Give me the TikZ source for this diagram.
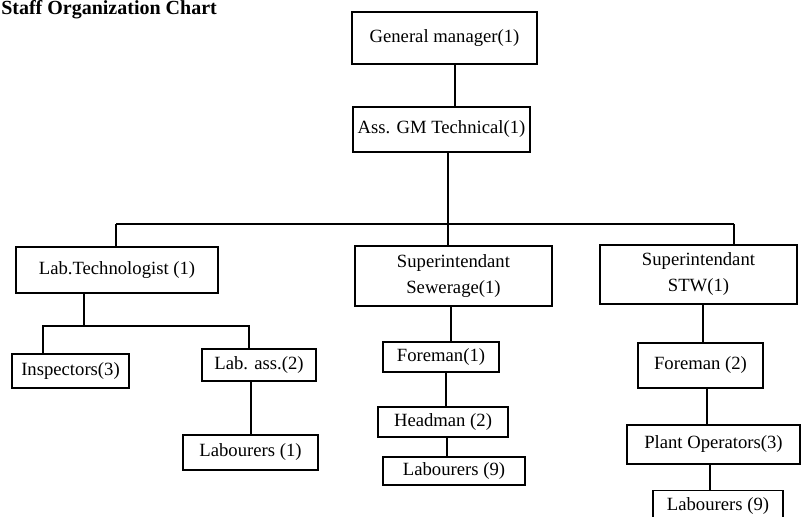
\documentclass[tikz,border=0pt]{standalone}
\usepackage{fontspec}
\setmainfont{Liberation Serif}
\begin{document}
\begin{tikzpicture}[x=0.75pt,y=-0.75pt,
  box/.style={draw=black,line width=1.1pt,inner sep=0pt,align=center,
    font=\fontsize{14}{19.5}\selectfont},
  wh/.style 2 args={minimum width=#1*0.75pt,minimum height=#2*0.75pt},
  conn/.style={draw=black,line width=1.2pt},
  thick conn/.style={draw=black,line width=1.8pt}]
\useasboundingbox (0,0) rectangle (801,517);
\fill[white] (0,0) rectangle (801,517);
\node[anchor=base west,inner sep=0pt,font=\bfseries\fontsize{15}{18}\selectfont] (title) at (1,15) {Staff Organization Chart};

\node[box,wh={185}{52}] (gm) at (444.5,38) {General manager(1)};
\node[box,wh={177}{45}] (ass) at (441.5,129.5) {Ass. GM Technical(1)};

\node[box,wh={202}{46}] (lab) at (117,270) {Lab.Technologist (1)};
\node[box,wh={197}{60}] (sew) at (453.5,276) {Superintendant\\Sewerage(1)};
\node[box,wh={197}{59}] (stw) at (698.5,274.5) {Superintendant\\STW(1)};

\node[box,wh={117}{34}] (insp) at (70.5,371) {Inspectors(3)};
\node[box,wh={114}{32}] (labass) at (259,365) {Lab. ass.(2)};
\node[box,wh={135}{35}] (lab1) at (250.5,452.5) {Labourers (1)};

\node[box,wh={116}{30}] (fm1) at (441,357) {Foreman(1)};
\node[box,wh={130}{30}] (head) at (443,422) {Headman (2)};
\node[box,wh={142}{28}] (lab9a) at (454,471) {Labourers (9)};

\node[box,wh={125}{45}] (fm2) at (700.5,365.5) {Foreman (2)};
\node[box,wh={173}{39}] (plant) at (713.5,444.5) {Plant Operators(3)};
\node[box,wh={130}{30},anchor=north] (lab9b) at (718,490) {Labourers (9)};

% connectors
\coordinate (hl) at (116,224);
\coordinate (hr) at (734,224);
\draw[conn] (gm.south -| 455,0) -- (ass.north -| 455,0);
\draw[thick conn] (ass.south -| 448,0) -- (sew.north -| 448,0);
\draw[conn,line width=1pt] (hl) -- (hr);
\draw[thick conn] (hl) -- (lab.north -| hl);
\draw[conn] (hr) -- (stw.north -| hr);

\coordinate (lb) at (84,326);
\draw[thick conn] (lab.south -| lb) -- (lb);
\draw[conn] (insp.north -| 43,0) |- (lb) -| (labass.north -| 249,0);
\draw[thick conn] (labass.south -| 251,0) -- (lab1.north -| 251,0);

\draw[conn] (sew.south -| 451,0) -- (fm1.north -| 451,0);
\draw[thick conn] (fm1.south -| 446,0) -- (head.north -| 446,0);
\draw[thick conn] (head.south -| 447,0) -- (lab9a.north -| 447,0);

\draw[thick conn] (stw.south -| 703,0) -- (fm2.north -| 703,0);
\draw[thick conn] (fm2.south -| 707,0) -- (plant.north -| 707,0);
\draw[conn] (plant.south -| 710,0) -- (lab9b.north -| 710,0);
\end{tikzpicture}
\end{document}
